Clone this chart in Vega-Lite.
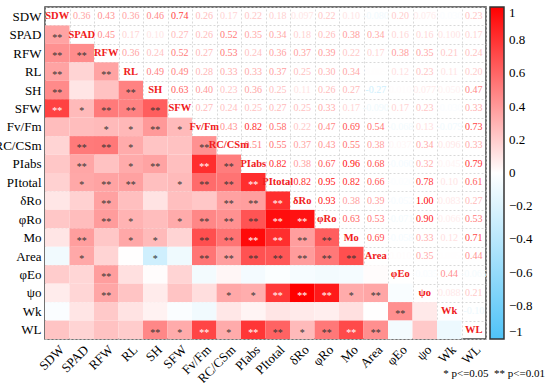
{
  "$schema": "https://vega.github.io/schema/vega-lite/v6.json",
  "width": 441,
  "height": 332,
  "autosize": {"type": "none"},
  "padding": {"left": 45, "top": 7, "right": 64, "bottom": 44},
  "config": {
    "font": "'Liberation Serif', 'DejaVu Serif', serif",
    "view": {"stroke": "#444", "strokeWidth": 1.5},
    "axis": {"grid": true, "tickBand": "extent", "gridDash": [2, 2], "gridColor": "#cfcfcf", "gridWidth": 0.8, "ticks": false, "domain": false, "title": null, "labelFont": "'Liberation Serif', 'DejaVu Serif', serif", "labelFontSize": 13, "labelColor": "#000", "zindex": 1},
    "text": {"font": "'Liberation Serif', 'DejaVu Serif', serif"},
    "legend": {"labelFont": "'Liberation Serif', 'DejaVu Serif', serif"},
    "title": {"font": "'Liberation Serif', 'DejaVu Serif', serif"}
  },
  "title": {"text": "* p<=0.05\u00a0\u00a0** p<=0.01", "orient": "bottom", "anchor": "end", "frame": "bounds", "fontSize": 11, "font": "'Liberation Serif', 'DejaVu Serif', serif", "fontWeight": "normal", "color": "#000", "offset": -17, "dx": 12},
  "datasets": {
    "names": [
      {"n": "SDW"}, {"n": "SPAD"}, {"n": "RFW"}, {"n": "RL"}, {"n": "SH"}, {"n": "SFW"}, {"n": "Fv/Fm"}, {"n": "RC/CSm"}, {"n": "PIabs"}, {"n": "PItotal"}, {"n": "δRo"}, {"n": "φRo"}, {"n": "Mo"}, {"n": "Area"}, {"n": "φEo"}, {"n": "ψo"}, {"n": "Wk"}, {"n": "WL"}
    ],
    "pairs": [
      {"a": "SDW", "b": "SPAD", "v": 0.36, "t": "0.36", "s": "**"},
      {"a": "SDW", "b": "RFW", "v": 0.43, "t": "0.43", "s": "**"},
      {"a": "SDW", "b": "RL", "v": 0.36, "t": "0.36", "s": "**"},
      {"a": "SDW", "b": "SH", "v": 0.46, "t": "0.46", "s": "**"},
      {"a": "SDW", "b": "SFW", "v": 0.74, "t": "0.74", "s": "**"},
      {"a": "SDW", "b": "Fv/Fm", "v": 0.26, "t": "0.26", "s": ""},
      {"a": "SDW", "b": "RC/CSm", "v": 0.17, "t": "0.17", "s": ""},
      {"a": "SDW", "b": "PIabs", "v": 0.22, "t": "0.22", "s": ""},
      {"a": "SDW", "b": "PItotal", "v": 0.18, "t": "0.18", "s": ""},
      {"a": "SDW", "b": "δRo", "v": 0.097, "t": "0.097", "s": ""},
      {"a": "SDW", "b": "φRo", "v": 0.22, "t": "0.22", "s": ""},
      {"a": "SDW", "b": "Mo", "v": 0.10, "t": "0.10", "s": ""},
      {"a": "SDW", "b": "Area", "v": -0.08, "t": "-0.080", "s": ""},
      {"a": "SDW", "b": "φEo", "v": 0.20, "t": "0.20", "s": ""},
      {"a": "SDW", "b": "ψo", "v": 0.076, "t": "0.076", "s": ""},
      {"a": "SDW", "b": "Wk", "v": -0.03, "t": "-0.030", "s": ""},
      {"a": "SDW", "b": "WL", "v": 0.23, "t": "0.23", "s": ""},
      {"a": "SPAD", "b": "RFW", "v": 0.45, "t": "0.45", "s": "**"},
      {"a": "SPAD", "b": "RL", "v": 0.17, "t": "0.17", "s": ""},
      {"a": "SPAD", "b": "SH", "v": 0.10, "t": "0.10", "s": ""},
      {"a": "SPAD", "b": "SFW", "v": 0.27, "t": "0.27", "s": "*"},
      {"a": "SPAD", "b": "Fv/Fm", "v": 0.26, "t": "0.26", "s": ""},
      {"a": "SPAD", "b": "RC/CSm", "v": 0.52, "t": "0.52", "s": "**"},
      {"a": "SPAD", "b": "PIabs", "v": 0.35, "t": "0.35", "s": "**"},
      {"a": "SPAD", "b": "PItotal", "v": 0.34, "t": "0.34", "s": "*"},
      {"a": "SPAD", "b": "δRo", "v": 0.18, "t": "0.18", "s": ""},
      {"a": "SPAD", "b": "φRo", "v": 0.26, "t": "0.26", "s": ""},
      {"a": "SPAD", "b": "Mo", "v": 0.38, "t": "0.38", "s": "**"},
      {"a": "SPAD", "b": "Area", "v": 0.34, "t": "0.34", "s": "*"},
      {"a": "SPAD", "b": "φEo", "v": 0.16, "t": "0.16", "s": ""},
      {"a": "SPAD", "b": "ψo", "v": 0.16, "t": "0.16", "s": ""},
      {"a": "SPAD", "b": "Wk", "v": 0.100, "t": "0.100", "s": ""},
      {"a": "SPAD", "b": "WL", "v": 0.17, "t": "0.17", "s": ""},
      {"a": "RFW", "b": "RL", "v": 0.36, "t": "0.36", "s": "**"},
      {"a": "RFW", "b": "SH", "v": 0.24, "t": "0.24", "s": ""},
      {"a": "RFW", "b": "SFW", "v": 0.52, "t": "0.52", "s": "**"},
      {"a": "RFW", "b": "Fv/Fm", "v": 0.27, "t": "0.27", "s": "*"},
      {"a": "RFW", "b": "RC/CSm", "v": 0.53, "t": "0.53", "s": "**"},
      {"a": "RFW", "b": "PIabs", "v": 0.24, "t": "0.24", "s": ""},
      {"a": "RFW", "b": "PItotal", "v": 0.36, "t": "0.36", "s": "**"},
      {"a": "RFW", "b": "δRo", "v": 0.37, "t": "0.37", "s": "**"},
      {"a": "RFW", "b": "φRo", "v": 0.39, "t": "0.39", "s": "**"},
      {"a": "RFW", "b": "Mo", "v": 0.22, "t": "0.22", "s": ""},
      {"a": "RFW", "b": "Area", "v": 0.17, "t": "0.17", "s": ""},
      {"a": "RFW", "b": "φEo", "v": 0.38, "t": "0.38", "s": "**"},
      {"a": "RFW", "b": "ψo", "v": 0.35, "t": "0.35", "s": "**"},
      {"a": "RFW", "b": "Wk", "v": 0.21, "t": "0.21", "s": ""},
      {"a": "RFW", "b": "WL", "v": 0.24, "t": "0.24", "s": ""},
      {"a": "RL", "b": "SH", "v": 0.49, "t": "0.49", "s": "**"},
      {"a": "RL", "b": "SFW", "v": 0.49, "t": "0.49", "s": "**"},
      {"a": "RL", "b": "Fv/Fm", "v": 0.28, "t": "0.28", "s": "*"},
      {"a": "RL", "b": "RC/CSm", "v": 0.33, "t": "0.33", "s": "*"},
      {"a": "RL", "b": "PIabs", "v": 0.33, "t": "0.33", "s": "*"},
      {"a": "RL", "b": "PItotal", "v": 0.37, "t": "0.37", "s": "**"},
      {"a": "RL", "b": "δRo", "v": 0.25, "t": "0.25", "s": ""},
      {"a": "RL", "b": "φRo", "v": 0.30, "t": "0.30", "s": "*"},
      {"a": "RL", "b": "Mo", "v": 0.34, "t": "0.34", "s": "*"},
      {"a": "RL", "b": "Area", "v": 0.005, "t": "0.005", "s": ""},
      {"a": "RL", "b": "φEo", "v": 0.12, "t": "0.12", "s": ""},
      {"a": "RL", "b": "ψo", "v": 0.23, "t": "0.23", "s": ""},
      {"a": "RL", "b": "Wk", "v": 0.11, "t": "0.11", "s": ""},
      {"a": "RL", "b": "WL", "v": 0.20, "t": "0.20", "s": ""},
      {"a": "SH", "b": "SFW", "v": 0.63, "t": "0.63", "s": "**"},
      {"a": "SH", "b": "Fv/Fm", "v": 0.40, "t": "0.40", "s": "**"},
      {"a": "SH", "b": "RC/CSm", "v": 0.23, "t": "0.23", "s": ""},
      {"a": "SH", "b": "PIabs", "v": 0.36, "t": "0.36", "s": "**"},
      {"a": "SH", "b": "PItotal", "v": 0.25, "t": "0.25", "s": ""},
      {"a": "SH", "b": "δRo", "v": 0.11, "t": "0.11", "s": ""},
      {"a": "SH", "b": "φRo", "v": 0.26, "t": "0.26", "s": ""},
      {"a": "SH", "b": "Mo", "v": 0.27, "t": "0.27", "s": "*"},
      {"a": "SH", "b": "Area", "v": -0.27, "t": "-0.27", "s": "*"},
      {"a": "SH", "b": "φEo", "v": 0.01, "t": "0.010", "s": ""},
      {"a": "SH", "b": "ψo", "v": 0.077, "t": "0.077", "s": ""},
      {"a": "SH", "b": "Wk", "v": 0.05, "t": "0.050", "s": ""},
      {"a": "SH", "b": "WL", "v": 0.47, "t": "0.47", "s": "**"},
      {"a": "SFW", "b": "Fv/Fm", "v": 0.27, "t": "0.27", "s": "*"},
      {"a": "SFW", "b": "RC/CSm", "v": 0.24, "t": "0.24", "s": ""},
      {"a": "SFW", "b": "PIabs", "v": 0.25, "t": "0.25", "s": ""},
      {"a": "SFW", "b": "PItotal", "v": 0.27, "t": "0.27", "s": "*"},
      {"a": "SFW", "b": "δRo", "v": 0.25, "t": "0.25", "s": ""},
      {"a": "SFW", "b": "φRo", "v": 0.33, "t": "0.33", "s": "*"},
      {"a": "SFW", "b": "Mo", "v": 0.17, "t": "0.17", "s": ""},
      {"a": "SFW", "b": "Area", "v": -0.09, "t": "-0.090", "s": ""},
      {"a": "SFW", "b": "φEo", "v": 0.17, "t": "0.17", "s": ""},
      {"a": "SFW", "b": "ψo", "v": 0.23, "t": "0.23", "s": ""},
      {"a": "SFW", "b": "Wk", "v": -0.03, "t": "-0.030", "s": ""},
      {"a": "SFW", "b": "WL", "v": 0.33, "t": "0.33", "s": "*"},
      {"a": "Fv/Fm", "b": "RC/CSm", "v": 0.43, "t": "0.43", "s": "**"},
      {"a": "Fv/Fm", "b": "PIabs", "v": 0.82, "t": "0.82", "s": "**"},
      {"a": "Fv/Fm", "b": "PItotal", "v": 0.58, "t": "0.58", "s": "**"},
      {"a": "Fv/Fm", "b": "δRo", "v": 0.22, "t": "0.22", "s": ""},
      {"a": "Fv/Fm", "b": "φRo", "v": 0.47, "t": "0.47", "s": "**"},
      {"a": "Fv/Fm", "b": "Mo", "v": 0.69, "t": "0.69", "s": "**"},
      {"a": "Fv/Fm", "b": "Area", "v": 0.54, "t": "0.54", "s": "**"},
      {"a": "Fv/Fm", "b": "φEo", "v": -0.068, "t": "-0.068", "s": ""},
      {"a": "Fv/Fm", "b": "ψo", "v": 0.13, "t": "0.13", "s": ""},
      {"a": "Fv/Fm", "b": "Wk", "v": -0.079, "t": "-0.079", "s": ""},
      {"a": "Fv/Fm", "b": "WL", "v": 0.73, "t": "0.73", "s": "**"},
      {"a": "RC/CSm", "b": "PIabs", "v": 0.51, "t": "0.51", "s": "**"},
      {"a": "RC/CSm", "b": "PItotal", "v": 0.55, "t": "0.55", "s": "**"},
      {"a": "RC/CSm", "b": "δRo", "v": 0.37, "t": "0.37", "s": "**"},
      {"a": "RC/CSm", "b": "φRo", "v": 0.43, "t": "0.43", "s": "**"},
      {"a": "RC/CSm", "b": "Mo", "v": 0.55, "t": "0.55", "s": "**"},
      {"a": "RC/CSm", "b": "Area", "v": 0.38, "t": "0.38", "s": "**"},
      {"a": "RC/CSm", "b": "φEo", "v": 0.037, "t": "0.037", "s": ""},
      {"a": "RC/CSm", "b": "ψo", "v": 0.34, "t": "0.34", "s": "*"},
      {"a": "RC/CSm", "b": "Wk", "v": 0.096, "t": "0.096", "s": ""},
      {"a": "RC/CSm", "b": "WL", "v": 0.33, "t": "0.33", "s": "*"},
      {"a": "PIabs", "b": "PItotal", "v": 0.82, "t": "0.82", "s": "**"},
      {"a": "PIabs", "b": "δRo", "v": 0.38, "t": "0.38", "s": "**"},
      {"a": "PIabs", "b": "φRo", "v": 0.67, "t": "0.67", "s": "**"},
      {"a": "PIabs", "b": "Mo", "v": 0.96, "t": "0.96", "s": "**"},
      {"a": "PIabs", "b": "Area", "v": 0.68, "t": "0.68", "s": "**"},
      {"a": "PIabs", "b": "φEo", "v": -0.06, "t": "-0.060", "s": ""},
      {"a": "PIabs", "b": "ψo", "v": 0.32, "t": "0.32", "s": "*"},
      {"a": "PIabs", "b": "Wk", "v": 0.045, "t": "0.045", "s": ""},
      {"a": "PIabs", "b": "WL", "v": 0.79, "t": "0.79", "s": "**"},
      {"a": "PItotal", "b": "δRo", "v": 0.82, "t": "0.82", "s": "**"},
      {"a": "PItotal", "b": "φRo", "v": 0.95, "t": "0.95", "s": "**"},
      {"a": "PItotal", "b": "Mo", "v": 0.82, "t": "0.82", "s": "**"},
      {"a": "PItotal", "b": "Area", "v": 0.66, "t": "0.66", "s": "**"},
      {"a": "PItotal", "b": "φEo", "v": -0.02, "t": "-0.020", "s": ""},
      {"a": "PItotal", "b": "ψo", "v": 0.78, "t": "0.78", "s": "**"},
      {"a": "PItotal", "b": "Wk", "v": 0.10, "t": "0.10", "s": ""},
      {"a": "PItotal", "b": "WL", "v": 0.61, "t": "0.61", "s": "**"},
      {"a": "δRo", "b": "φRo", "v": 0.93, "t": "0.93", "s": "**"},
      {"a": "δRo", "b": "Mo", "v": 0.38, "t": "0.38", "s": "**"},
      {"a": "δRo", "b": "Area", "v": 0.39, "t": "0.39", "s": "**"},
      {"a": "δRo", "b": "φEo", "v": -0.052, "t": "-0.052", "s": ""},
      {"a": "δRo", "b": "ψo", "v": 1.0, "t": "1.00", "s": "**"},
      {"a": "δRo", "b": "Wk", "v": 0.083, "t": "0.083", "s": ""},
      {"a": "δRo", "b": "WL", "v": 0.27, "t": "0.27", "s": "*"},
      {"a": "φRo", "b": "Mo", "v": 0.63, "t": "0.63", "s": "**"},
      {"a": "φRo", "b": "Area", "v": 0.53, "t": "0.53", "s": "**"},
      {"a": "φRo", "b": "φEo", "v": -0.071, "t": "-0.071", "s": ""},
      {"a": "φRo", "b": "ψo", "v": 0.90, "t": "0.90", "s": "**"},
      {"a": "φRo", "b": "Wk", "v": 0.066, "t": "0.066", "s": ""},
      {"a": "φRo", "b": "WL", "v": 0.53, "t": "0.53", "s": "**"},
      {"a": "Mo", "b": "Area", "v": 0.69, "t": "0.69", "s": "**"},
      {"a": "Mo", "b": "φEo", "v": -0.058, "t": "-0.058", "s": ""},
      {"a": "Mo", "b": "ψo", "v": 0.33, "t": "0.33", "s": "*"},
      {"a": "Mo", "b": "Wk", "v": 0.12, "t": "0.12", "s": ""},
      {"a": "Mo", "b": "WL", "v": 0.71, "t": "0.71", "s": "**"},
      {"a": "Area", "b": "φEo", "v": 0.01, "t": "0.010", "s": ""},
      {"a": "Area", "b": "ψo", "v": 0.35, "t": "0.35", "s": "**"},
      {"a": "Area", "b": "Wk", "v": 0.005, "t": "0.005", "s": ""},
      {"a": "Area", "b": "WL", "v": 0.44, "t": "0.44", "s": "**"},
      {"a": "φEo", "b": "ψo", "v": -0.035, "t": "-0.035", "s": ""},
      {"a": "φEo", "b": "Wk", "v": 0.44, "t": "0.44", "s": "**"},
      {"a": "φEo", "b": "WL", "v": -0.065, "t": "-0.065", "s": ""},
      {"a": "ψo", "b": "Wk", "v": 0.088, "t": "0.088", "s": ""},
      {"a": "ψo", "b": "WL", "v": 0.21, "t": "0.21", "s": ""},
      {"a": "Wk", "b": "WL", "v": -0.10, "t": "-0.10", "s": ""}
    ]
  },
  "layer": [
    {
      "data": {"name": "pairs"},
      "mark": {"type": "rect"},
      "encoding": {
        "x": {"field": "a", "type": "nominal", "sort": null, "scale": {"domain": ["SDW", "SPAD", "RFW", "RL", "SH", "SFW", "Fv/Fm", "RC/CSm", "PIabs", "PItotal", "δRo", "φRo", "Mo", "Area", "φEo", "ψo", "Wk", "WL"], "paddingInner": 0, "paddingOuter": 0}, "axis": {"orient": "bottom", "labelAngle": -45, "labelPadding": 4}},
        "y": {"field": "b", "type": "nominal", "sort": null, "scale": {"domain": ["SDW", "SPAD", "RFW", "RL", "SH", "SFW", "Fv/Fm", "RC/CSm", "PIabs", "PItotal", "δRo", "φRo", "Mo", "Area", "φEo", "ψo", "Wk", "WL"], "paddingInner": 0, "paddingOuter": 0}, "axis": {"orient": "left", "labelPadding": 4}},
        "color": {"field": "v", "type": "quantitative", "scale": {"type": "linear", "domain": [-1, 0, 1], "range": ["#4fc3f7", "#ffffff", "#ff0000"], "interpolate": "rgb", "zero": false, "nice": false}, "legend": {"title": null, "orient": "right", "offset": 4, "padding": 0, "direction": "vertical", "gradientLength": 332, "gradientThickness": 14, "gradientStrokeColor": "#333", "gradientStrokeWidth": 1.5, "values": [-1, -0.8, -0.6, -0.4, -0.2, 0, 0.2, 0.4, 0.6, 0.8, 1], "format": "~g", "labelFontSize": 13, "labelColor": "#000", "labelOffset": 5}}
      }
    },
    {
      "data": {"name": "pairs"},
      "mark": {"type": "text", "fontSize": 10, "dy": 3, "baseline": "middle"},
      "encoding": {
        "x": {"field": "a", "type": "nominal", "sort": null},
        "y": {"field": "b", "type": "nominal", "sort": null},
        "text": {"field": "s"},
        "color": {"condition": {"test": "datum.v > 0.7", "value": "#ffffff"}, "value": "#333333"}
      }
    },
    {
      "data": {"name": "pairs"},
      "mark": {"type": "text", "fontSize": 10, "baseline": "middle"},
      "encoding": {
        "x": {"field": "b", "type": "nominal", "sort": null},
        "y": {"field": "a", "type": "nominal", "sort": null},
        "text": {"field": "t"},
        "color": {"field": "v", "type": "quantitative", "scale": {"type": "linear", "domain": [-1, 0, 1], "range": ["#4fc3f7", "#ffffff", "#ff0000"], "interpolate": "rgb", "zero": false, "nice": false}}
      }
    },
    {
      "data": {"name": "names"},
      "mark": {"type": "text", "fontSize": 10.5, "fontWeight": "bold", "baseline": "middle", "color": "#f02020"},
      "encoding": {
        "x": {"field": "n", "type": "nominal", "sort": null},
        "y": {"field": "n", "type": "nominal", "sort": null},
        "text": {"field": "n"}
      }
    }
  ]
}
